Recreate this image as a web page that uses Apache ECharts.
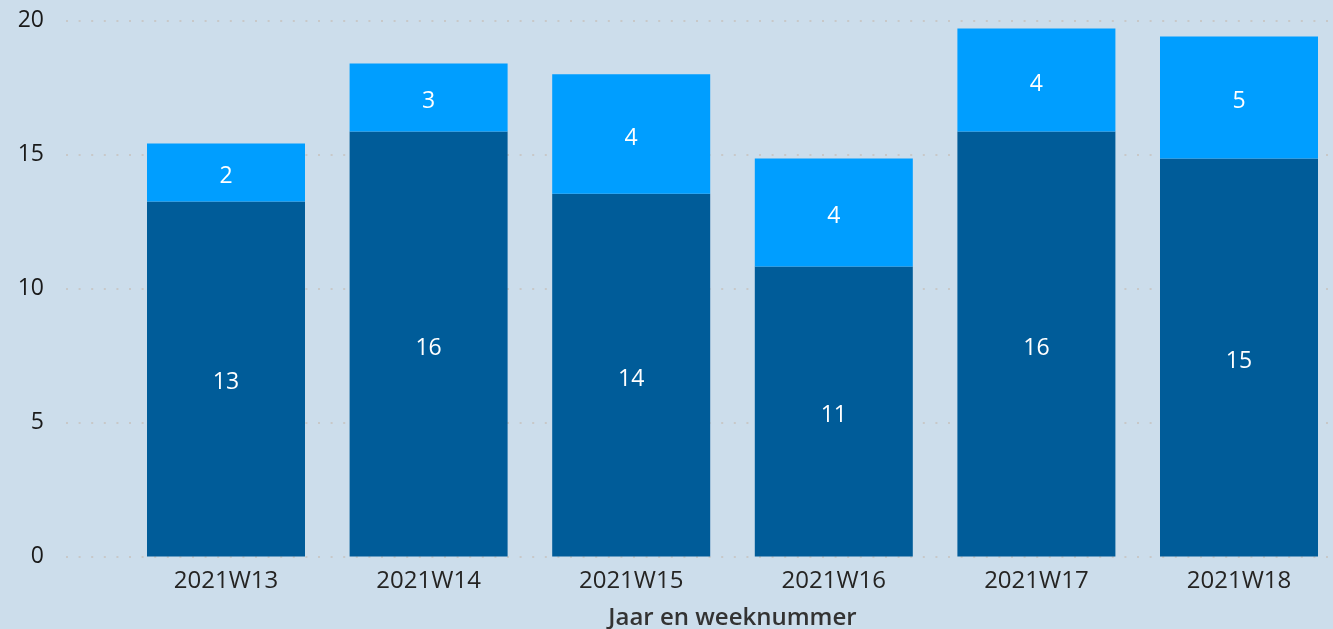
<!DOCTYPE html>
<html>
<head>
<meta charset="utf-8">
<title>Jaar en weeknummer</title>
<script src="https://cdn.jsdelivr.net/npm/echarts@6/dist/echarts.min.js"></script>
<style>
    html, body { margin: 0; padding: 0; background: #CCDDEB; }
    #chart { width: 1333px; height: 629px; }
</style>
</head>
<body>
<div id="chart"></div>
<script>
// 数据
const weeks = ['2021W13', '2021W14', '2021W15', '2021W16', '2021W17', '2021W18'];
const darkValues = [13.25, 15.86, 13.54, 10.82, 15.86, 14.85];
const lightValues = [2.16, 2.54, 4.45, 4.03, 3.84, 4.55];
const yTicks = [0, 5, 10, 15, 20];

document.addEventListener('DOMContentLoaded', function () {
    const chartDom = document.querySelector('#chart');
    const myChart = echarts.init(chartDom);

    const fontFamily = "'Open Sans', 'Noto Sans', sans-serif";
    const yMin = yTicks[0];
    const yMax = yTicks[yTicks.length - 1];
    const yStep = yTicks[1] - yTicks[0];

    const labelStyle = {
        show: true,
        position: 'inside',
        offset: [0, 4],
        color: '#ffffff',
        fontFamily: fontFamily,
        fontSize: 23,
        formatter: function (p) {
            return Math.round(p.value);
        }
    };

    const option = {
        backgroundColor: '#CCDDEB',
        animation: false,
        // grid 0: 网格线和 y 轴刻度; grid 1: 柱子
        grid: [
            { left: 66, right: 0, top: 20.5, bottom: 72.5, outerBoundsMode: 'none' },
            { left: 124.7, right: -7.3, top: 20.5, bottom: 72.5, outerBoundsMode: 'none' }
        ],
        xAxis: [
            {
                gridIndex: 0,
                type: 'value',
                show: false
            },
            {
                gridIndex: 1,
                type: 'category',
                data: weeks,
                axisLine: { show: false },
                axisTick: { show: false },
                axisLabel: {
                    color: '#252423',
                    fontFamily: fontFamily,
                    fontSize: 24,
                    margin: 13
                },
                name: 'Jaar en weeknummer',
                nameLocation: 'middle',
                nameGap: 50,
                nameTextStyle: {
                    color: '#333333',
                    fontFamily: fontFamily,
                    fontSize: 24,
                    fontWeight: 600
                }
            }
        ],
        yAxis: [
            {
                gridIndex: 0,
                type: 'value',
                min: yMin,
                max: yMax,
                interval: yStep,
                axisLine: { show: false },
                axisTick: { show: false },
                axisLabel: {
                    color: '#1a1a1a',
                    fontFamily: fontFamily,
                    fontSize: 23,
                    margin: 22
                },
                splitLine: {
                    show: true,
                    lineStyle: {
                        color: '#C8C8C8',
                        width: 2,
                        type: [2, 10.6]
                    }
                }
            },
            {
                gridIndex: 1,
                type: 'value',
                min: yMin,
                max: yMax,
                interval: yStep,
                show: false,
                splitLine: { show: false }
            }
        ],
        series: [
            {
                name: 'dark',
                type: 'bar',
                stack: 'total',
                xAxisIndex: 1,
                yAxisIndex: 1,
                barWidth: 158,
                data: darkValues,
                itemStyle: { color: '#005C99' },
                label: labelStyle
            },
            {
                name: 'light',
                type: 'bar',
                stack: 'total',
                xAxisIndex: 1,
                yAxisIndex: 1,
                barWidth: 158,
                data: lightValues,
                itemStyle: { color: '#009EFF' },
                label: labelStyle
            }
        ]
    };

    myChart.setOption(option);

    window.addEventListener('resize', function () {
        myChart.resize();
    });
});
</script>
</body>
</html>
